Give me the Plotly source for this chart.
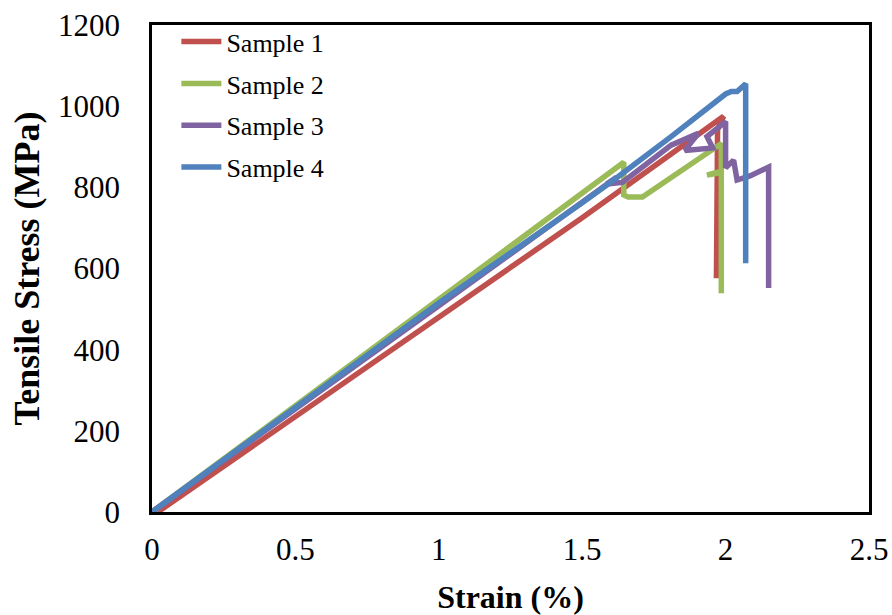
import plotly.graph_objects as go

# Sample data (strain %, stress MPa)
s1_strain = [0.02, 0.5, 1.0, 1.5, 1.81, 1.993, 1.972, 1.968]
s1_stress = [0, 235, 480, 725, 882, 975, 942, 576]

s2_strain = [0.0, 0.5, 1.0, 1.4, 1.645, 1.645, 1.66, 1.71, 1.985, 1.985, 1.935, 1.985, 1.985]
s2_stress = [0, 262, 522, 733, 862, 781, 776, 776, 908, 836, 830, 840, 539]

s3_strain = [0.0, 0.5, 1.0, 1.4, 1.62, 1.585, 1.64, 1.81, 1.905, 1.858, 1.955, 1.935,
             2.0, 2.0, 2.028, 2.035, 2.04, 2.085, 2.15, 2.15]
s3_stress = [0, 256, 508, 712, 825, 808, 812, 904, 933, 891, 897, 925,
             962, 848, 867, 835, 818, 828, 850, 552]

s4_strain = [0.0, 0.5, 1.0, 1.5, 1.61, 1.81, 2.0, 2.02, 2.04, 2.07, 2.07]
s4_stress = [0, 258, 515, 762, 818, 925, 1030, 1036, 1036, 1055, 613]

names = ["Sample 1", "Sample 2", "Sample 3", "Sample 4"]
colors = ["#C0504D", "#9BBB59", "#8064A2", "#4F81BD"]

x_ticks = [0, 0.5, 1, 1.5, 2, 2.5]
x_tick_text = ["0", "0.5", "1", "1.5", "2", "2.5"]
y_ticks = [0, 200, 400, 600, 800, 1000, 1200]

series = [(s1_strain, s1_stress), (s2_strain, s2_stress),
          (s3_strain, s3_stress), (s4_strain, s4_stress)]

fig = go.Figure()
for (xs, ys), name, col in zip(series, names, colors):
    fig.add_trace(go.Scatter(
        x=xs, y=ys, mode="lines", name=name, legendgroup=name,
        line=dict(color=col, width=5.5, shape="linear"),
    ))

font_family = "Liberation Serif, Times New Roman, serif"

fig.update_layout(
    width=892, height=615,
    margin=dict(l=152, r=23, t=25, b=103, autoexpand=False),
    paper_bgcolor="white", plot_bgcolor="white",
    font=dict(family=font_family, color="black"),
    showlegend=True,
    legend=dict(
        x=0.034, y=1.014, xanchor="left", yanchor="top",
        font=dict(size=26, family=font_family, color="black"),
        bgcolor="rgba(0,0,0,0)", tracegroupgap=5,
        itemwidth=40,
    ),
    xaxis=dict(
        range=[0, 2.5], tickvals=x_ticks, ticktext=x_tick_text,
        showgrid=False, zeroline=False, automargin=False,
        showline=True, linecolor="black", linewidth=2.5, mirror=True,
        ticks="", ticklabelstandoff=8, ticklabeloverflow="allow",
        tickfont=dict(size=31, family=font_family),
        title=dict(text="<b>Strain (%)</b>", font=dict(size=32, family=font_family), standoff=20),
    ),
    yaxis=dict(
        range=[0, 1200], tickvals=y_ticks,
        showgrid=False, zeroline=False, automargin=False,
        showline=True, linecolor="black", linewidth=2.5, mirror=True,
        ticks="", ticklabelstandoff=23, ticklabeloverflow="allow",
        tickfont=dict(size=31, family=font_family),
        title=dict(text="<b>Tensile Stress (MPa)</b>", font=dict(size=36, family=font_family), standoff=8),
    ),
)

# remove the default 8px body margin so the figure fills the window exactly
fig.write_html("out.html", config={"displayModeBar": False},
               post_script="document.body.style.margin='0px';")
